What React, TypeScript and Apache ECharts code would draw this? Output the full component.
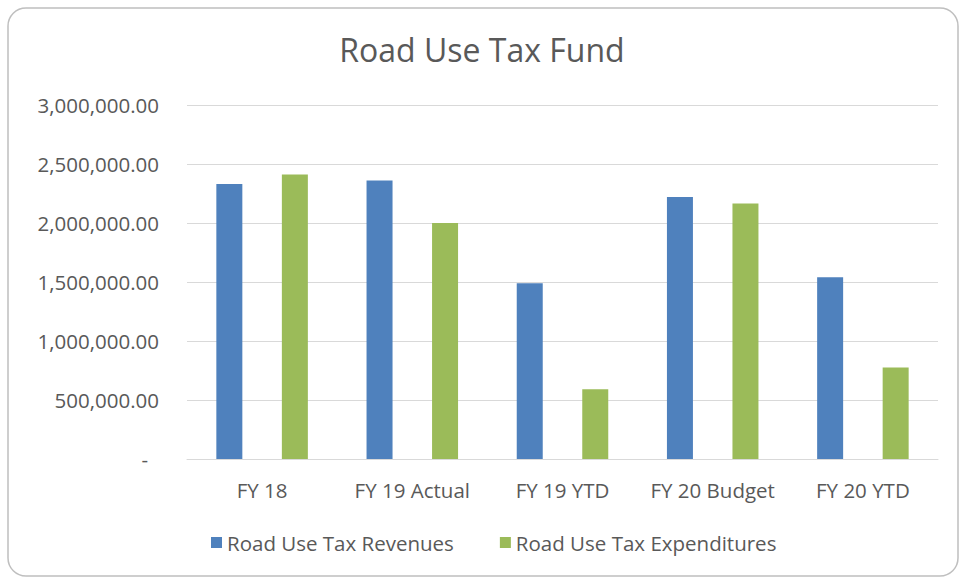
import React, { useEffect, useRef } from "react";
import * as echarts from "echarts";

const categories = ["FY 18", "FY 19 Actual", "FY 19 YTD", "FY 20 Budget", "FY 20 YTD"];
const revenues = [2330000, 2360000, 1490000, 2220000, 1540000];
const expenditures = [2412000, 2000000, 592000, 2166000, 775000];
const seriesNames = ["Road Use Tax Revenues", "Road Use Tax Expenditures"];
const titleText = "Road Use Tax Fund";

const FONT = "'Open Sans', 'Noto Sans', sans-serif";
const TXT = "#595959";
const FS = 20.5;

function fmt(v: number): string {
  if (v === 0) return "{z|-}";
  return v.toLocaleString("en-US", { minimumFractionDigits: 2, maximumFractionDigits: 2 });
}

export default function App() {
  const ref = useRef<HTMLDivElement>(null);
  useEffect(() => {
    document.body.style.margin = "0";
    const chart = echarts.init(ref.current!, null, { renderer: "svg" });
    chart.setOption({
      animation: false,
      backgroundColor: "#ffffff",
      textStyle: { fontFamily: FONT },
      graphic: [
        {
          type: "rect",
          shape: { x: 8, y: 8, width: 950, height: 568, r: 18 },
          style: { fill: "none", stroke: "#bfbfbf", lineWidth: 1.5 },
          silent: true,
        },
      ],
      title: {
        text: titleText,
        left: "center",
        top: 28,
        textStyle: { fontFamily: FONT, fontSize: 32, fontWeight: "normal", color: TXT },
      },
      grid: { left: 187, right: 26, top: 105, bottom: 121 },
      legend: {
        bottom: 22,
        left: 206,
        itemWidth: 11,
        itemHeight: 11,
        itemGap: 46,
        icon: "rect",
        textStyle: { fontFamily: FONT, fontSize: FS, color: TXT },
        data: seriesNames,
      },
      xAxis: {
        type: "category",
        data: categories,
        axisLine: { lineStyle: { color: "#d9d9d9", width: 1 } },
        axisTick: { show: false },
        axisLabel: { fontFamily: FONT, fontSize: FS, color: TXT, margin: 20, interval: 0 },
      },
      yAxis: {
        type: "value",
        min: 0,
        max: 3000000,
        interval: 500000,
        axisLine: { show: false },
        axisTick: { show: false },
        splitLine: { lineStyle: { color: "#d9d9d9", width: 1 } },
        axisLabel: {
          fontFamily: FONT,
          fontSize: FS,
          color: TXT,
          margin: 28,
          formatter: fmt,
          rich: { z: { fontFamily: FONT, fontSize: FS, color: TXT, padding: [0, 11, 0, 0] } },
        },
      },
      series: [
        {
          name: seriesNames[0],
          type: "bar",
          data: revenues,
          barWidth: 26,
          barGap: "152%",
          itemStyle: { color: "#4F81BD" },
        },
        {
          name: seriesNames[1],
          type: "bar",
          data: expenditures,
          barWidth: 26,
          barGap: "152%",
          itemStyle: { color: "#9BBB59" },
        },
      ],
    });
    return () => chart.dispose();
  }, []);
  return <div ref={ref} style={{ width: 964, height: 580 }} />;
}
